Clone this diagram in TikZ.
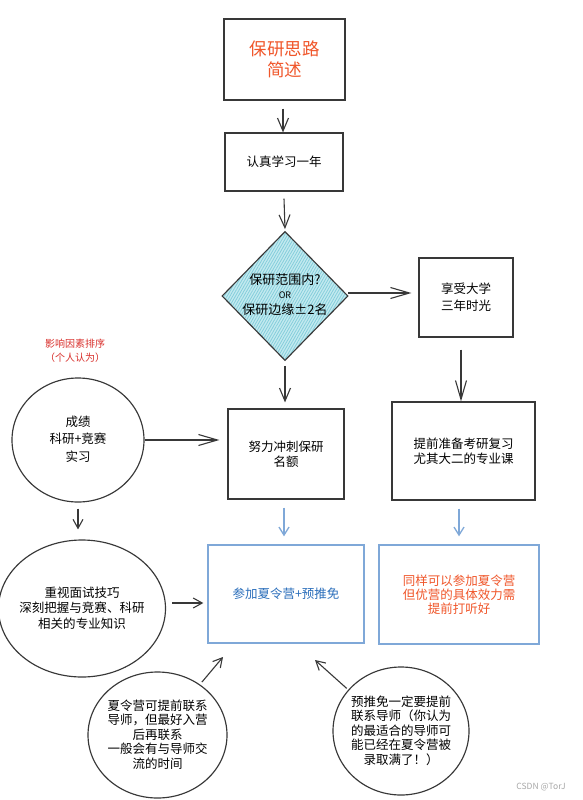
\documentclass[tikz,border=0pt]{standalone}
\usepackage{fontspec}
\setmainfont{Noto Sans CJK SC}
\usetikzlibrary{arrows.meta,shapes.geometric,patterns.meta}
\definecolor{linegray}{HTML}{383838}
\definecolor{orangeT}{HTML}{F0562A}
\definecolor{blueT}{HTML}{2A6EBB}
\definecolor{blueB}{HTML}{7FA8D8}
\definecolor{redT}{HTML}{D9302C}
\definecolor{diafill}{HTML}{C4EAF0}
\definecolor{diahatch}{HTML}{84CEDB}
\definecolor{wmgray}{HTML}{A8A8A8}
\begin{document}
\begin{tikzpicture}[x=1pt,y=-1pt,
  box/.style={draw=linegray, line width=1.15pt, rectangle, inner sep=0pt, align=center},
  bbox/.style={draw=blueB, line width=1.4pt, rectangle, inner sep=0pt, align=center},
  oval/.style={draw=linegray, line width=1.15pt, ellipse, inner sep=0pt},
  txt/.style={align=center, inner sep=0pt, text=black},
  f/.style={font=\fontsize{12.5pt}{#1}\selectfont},
  arr/.style={draw=linegray, line width=1.1pt, -{Straight Barb[length=13pt,width=11pt]}},
  larr/.style={draw=linegray, line width=1.1pt, -{Straight Barb[length=19pt,width=11pt]}},
  sarr/.style={draw=linegray, line width=1.1pt, -{Straight Barb[length=9pt,width=10pt]}},
  barr/.style={draw=blueB, line width=1.3pt, -{Straight Barb[length=8pt,width=10pt]}}
]
\useasboundingbox[fill=white] (0,0) rectangle (583,800);

% top boxes
\node[box, minimum width=121pt, minimum height=81pt, text=orangeT,
      font=\fontsize{17.5pt}{21.5pt}\selectfont] (title) at (284.5,59.5) {保研思路\\简述};
\node[box, minimum width=118pt, minimum height=58pt, f=15pt] (study) at (284,162) {认真学习一年};

% diamond
\node[diamond, draw=linegray, line width=1.15pt, inner sep=0pt, aspect=0.97,
      minimum width=126pt, minimum height=129pt,
      preaction={fill=diafill},
      pattern={Lines[angle=60,distance=2.4pt,line width=0.8pt]}, pattern color=diahatch] (diamond) at (285,296) {};
\node[txt, font=\fontsize{13pt}{16pt}\selectfont] (diamondt) at (285,295)
  {保研范围内?\\[-2pt]{\fontsize{9pt}{9pt}\selectfont OR}\\保研边缘±2名};

% right column
\node[box, minimum width=94pt, minimum height=79pt, f=16.7pt] (enjoy) at (466,297.5) {享受大学\\三年时光};
\node[box, minimum width=143pt, minimum height=98pt, f=15.5pt] (prep) at (463.5,451) {提前准备考研复习\\尤其大二的专业课};

% middle
\node[box, minimum width=116pt, minimum height=90pt, f=15pt] (effort) at (286,454) {努力冲刺保研\\名额};

% left circle
\node[txt, text=redT, font=\fontsize{10pt}{14pt}\selectfont] (rank) at (75,351) {影响因素排序\\（个人认为）};
\node[oval, minimum width=132pt, minimum height=124pt] (score) at (78,440) {};
\node[txt, f=17.5pt] (scoret) at (78,439) {成绩\\科研+竞赛\\实习};

% bottom boxes
\node[bbox, minimum width=156pt, minimum height=98pt, text=blueT, f=15pt] (attend) at (286,594) {参加夏令营+预推免};
\node[bbox, minimum width=160pt, minimum height=99pt, text=orangeT, f=14pt] (same) at (459,594.5) {同样可以参加夏令营\\但优营的具体效力需\\提前打听好};

% ellipse left
\node[oval, minimum width=167pt, minimum height=137pt] (skill) at (82,608.5) {};
\node[txt, f=15.6pt] (skillt) at (82,608) {重视面试技巧\\深刻把握与竞赛、科研\\相关的专业知识};

% bottom circles
\node[oval, minimum width=139pt, minimum height=126pt] (summer) at (157.5,735) {};
\node[txt, f=14.4pt] (summert) at (157.5,734.5) {夏令营可提前联系\\导师，但最好入营\\后再联系\\一般会有与导师交\\流的时间};
\node[oval, minimum width=136pt, minimum height=128pt] (pre) at (401,731) {};
\node[txt, f=14.4pt] (pret) at (401,730.5) {预推免一定要提前\\联系导师（你认为\\的最适合的导师可\\能已经在夏令营被\\录取满了！）};

% watermark
\node[txt, text=wmgray, font=\fontsize{8.5pt}{9pt}\selectfont] (wm) at (541,787) {CSDN @TorJ};

% connectors
\draw[arr] ([xshift=-1.5pt,yshift=-8pt]title.south) -- ([xshift=-1pt]study.north);
\draw[arr] ([yshift=-7pt]study.south) -- ([yshift=2pt]diamond.north);
\draw[larr, shorten >=7pt] ([yshift=3pt]diamond.east) -- ([yshift=3pt]diamond.east -| enjoy.west);
\draw[larr] ([xshift=-5pt,yshift=-12pt]enjoy.south) -- ([xshift=-2.5pt]prep.north);
\draw[arr, shorten <=5pt, shorten >=6pt] (diamond.south) -- (diamond.south |- effort.north);
\draw[larr, shorten >=8pt] (score.east) -- (score.east -| effort.west);
\draw[sarr, shorten <=6pt, shorten >=10pt] (score.south) -- (score.south |- skill.north);
\draw[barr, shorten <=8pt, shorten >=8pt] ([xshift=-2pt]effort.south) -- ([xshift=-2pt]effort.south |- attend.north);
\draw[barr, shorten <=8pt, shorten >=8pt] (same.north |- prep.south) -- (same.north);
\draw[sarr, shorten <=6pt, shorten >=4pt] ([yshift=5.5pt]skill.east) -- ([yshift=5.5pt]skill.east -| attend.west);
\coordinate (sumtip) at (223,657);
\coordinate (pretip) at (315,660);
\draw[sarr, shorten <=3pt] (summer.50) -- (sumtip);
\draw[sarr, shorten <=2pt] (pre.142) -- (pretip);
\end{tikzpicture}
\end{document}
